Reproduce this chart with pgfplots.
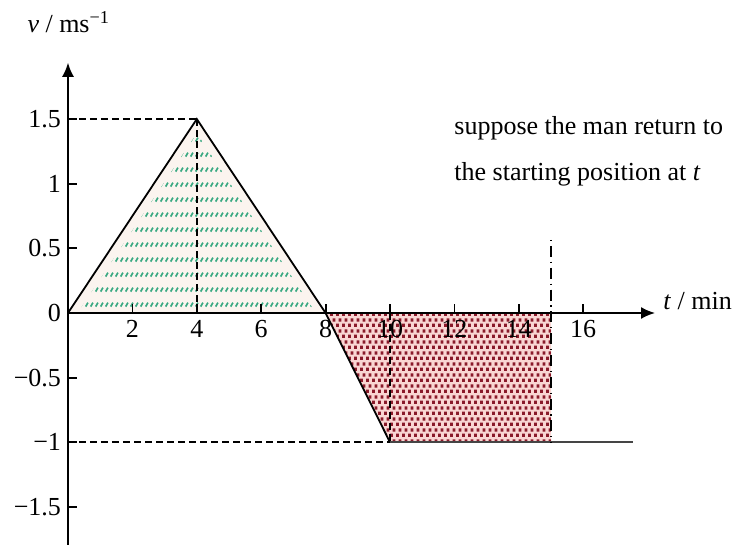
\documentclass[border=0pt]{standalone}
\usepackage{pgfplots}
\pgfplotsset{compat=1.18}
\usepackage{fontspec}
\setmainfont{Liberation Serif}
\usetikzlibrary{patterns,arrows.meta}

\definecolor{greenbg}{HTML}{FBF4EF}
\definecolor{greenhatch}{HTML}{3AA982}
\definecolor{redbg}{HTML}{F9D6D3}
\definecolor{reddot}{HTML}{8A1A2A}
\definecolor{flatline}{HTML}{454545}

% short slanted dashes in rows (area under the positive part)
\pgfdeclarepatternformonly{slashrows}{\pgfqpoint{0pt}{0pt}}{\pgfqpoint{2.5pt}{7.4pt}}{\pgfqpoint{2.5pt}{7.4pt}}{%
  \pgfsetlinewidth{0.95pt}%
  \pgfpathmoveto{\pgfqpoint{0.4pt}{0.7pt}}%
  \pgfpathlineto{\pgfqpoint{1.75pt}{2.7pt}}%
  \pgfusepath{stroke}%
}
% staggered square dots (area under the negative part)
\pgfdeclarepatternformonly{squaredots}{\pgfqpoint{0pt}{0pt}}{\pgfqpoint{3pt}{5.4pt}}{\pgfqpoint{3pt}{5.4pt}}{%
  \pgfpathrectangle{\pgfqpoint{0pt}{0pt}}{\pgfqpoint{1.65pt}{1.65pt}}%
  \pgfpathrectangle{\pgfqpoint{1.5pt}{2.7pt}}{\pgfqpoint{1.65pt}{1.65pt}}%
  \pgfusepath{fill}%
}

\begin{document}
\begin{tikzpicture}[font=\fontsize{13}{15.5}\selectfont]
\begin{axis}[
  x=16.1pt, y=64.65pt,
  xmin=0, xmax=18.23, ymin=-1.85, ymax=1.935,
  axis lines=middle,
  axis on top=true,
  clip=false,
  axis line style={line width=0.9pt, -{Latex[length=7pt,width=6pt]}},
  tick align=inside,
  major tick length=4.5pt,
  tick style={black, line width=0.9pt},
  hide obscured y ticks=false,
  xtick={2,4,6,8,10,12,14,16},
  xticklabels={2,4,6,8,10,12,14,16},
  ytick={-1.5,-1,-0.5,0,0.5,1,1.5},
  yticklabels={−1.5,−1,−0.5,0,0.5,1,1.5},
  tick label style={font=\fontsize{13}{15.5}\selectfont},
]
  % shaded areas
  \addplot[draw=none, fill=greenbg] coordinates {(0,0) (4,1.5) (8,0) (0,0)};
  \addplot[draw=none, pattern=slashrows, pattern color=greenhatch] coordinates {(0.3,0) (4,1.39) (7.7,0) (0.3,0)};
  \addplot[draw=none, fill=redbg] coordinates {(8,0) (10,-1) (15,-1) (15,0) (8,0)};
  \addplot[draw=none, pattern=squaredots, pattern color=reddot] coordinates {(8,0) (10,-1) (15,-1) (15,0) (8,0)};

  % velocity-time graph
  \addplot[black, line width=0.9pt] coordinates {(0,0) (4,1.5) (8,0)};
  \addplot[black, line width=0.9pt] coordinates {(8,0) (10,-1)};
  \addplot[flatline, line width=0.9pt] coordinates {(10,-1) (17.55,-1)};

  % guide lines
  \addplot[black, line width=0.9pt, dash pattern=on 3.5pt off 2pt] coordinates {(0,1.5) (4,1.5)};
  \addplot[black, line width=0.9pt, dash pattern=on 3.5pt off 2pt] coordinates {(4,1.5) (4,0)};
  \addplot[black, line width=0.9pt, dash pattern=on 3.5pt off 2pt] coordinates {(0,-1) (10,-1)};
  \addplot[black, line width=0.9pt, dash pattern=on 3.5pt off 2pt] coordinates {(10,0) (10,-1)};
  \addplot[black, line width=1pt, dash pattern=on 0.6pt off 2.4pt on 5.5pt off 2.4pt] coordinates {(15,0.565) (15,-1)};

  % labels
  \node[anchor=base west, inner sep=0pt] at (axis cs:-1.27,2.17) {\textit{v} / ms\textsuperscript{−1}};
  \node[anchor=base west, inner sep=0pt] at (axis cs:18.48,0.025) {\textit{t} / min};
  \node[anchor=base west, inner sep=0pt] at (axis cs:11.99,1.384) {suppose the man return to};
  \node[anchor=base west, inner sep=0pt] at (axis cs:11.99,1.021) {the starting position at \textit{t}};

  \coordinate (O) at (axis cs:0,0);
\end{axis}
\pgfresetboundingbox
\path ([shift={(-34pt,156.5pt)}]O) rectangle ([shift={(336pt,-116pt)}]O);
\end{tikzpicture}
\end{document}
